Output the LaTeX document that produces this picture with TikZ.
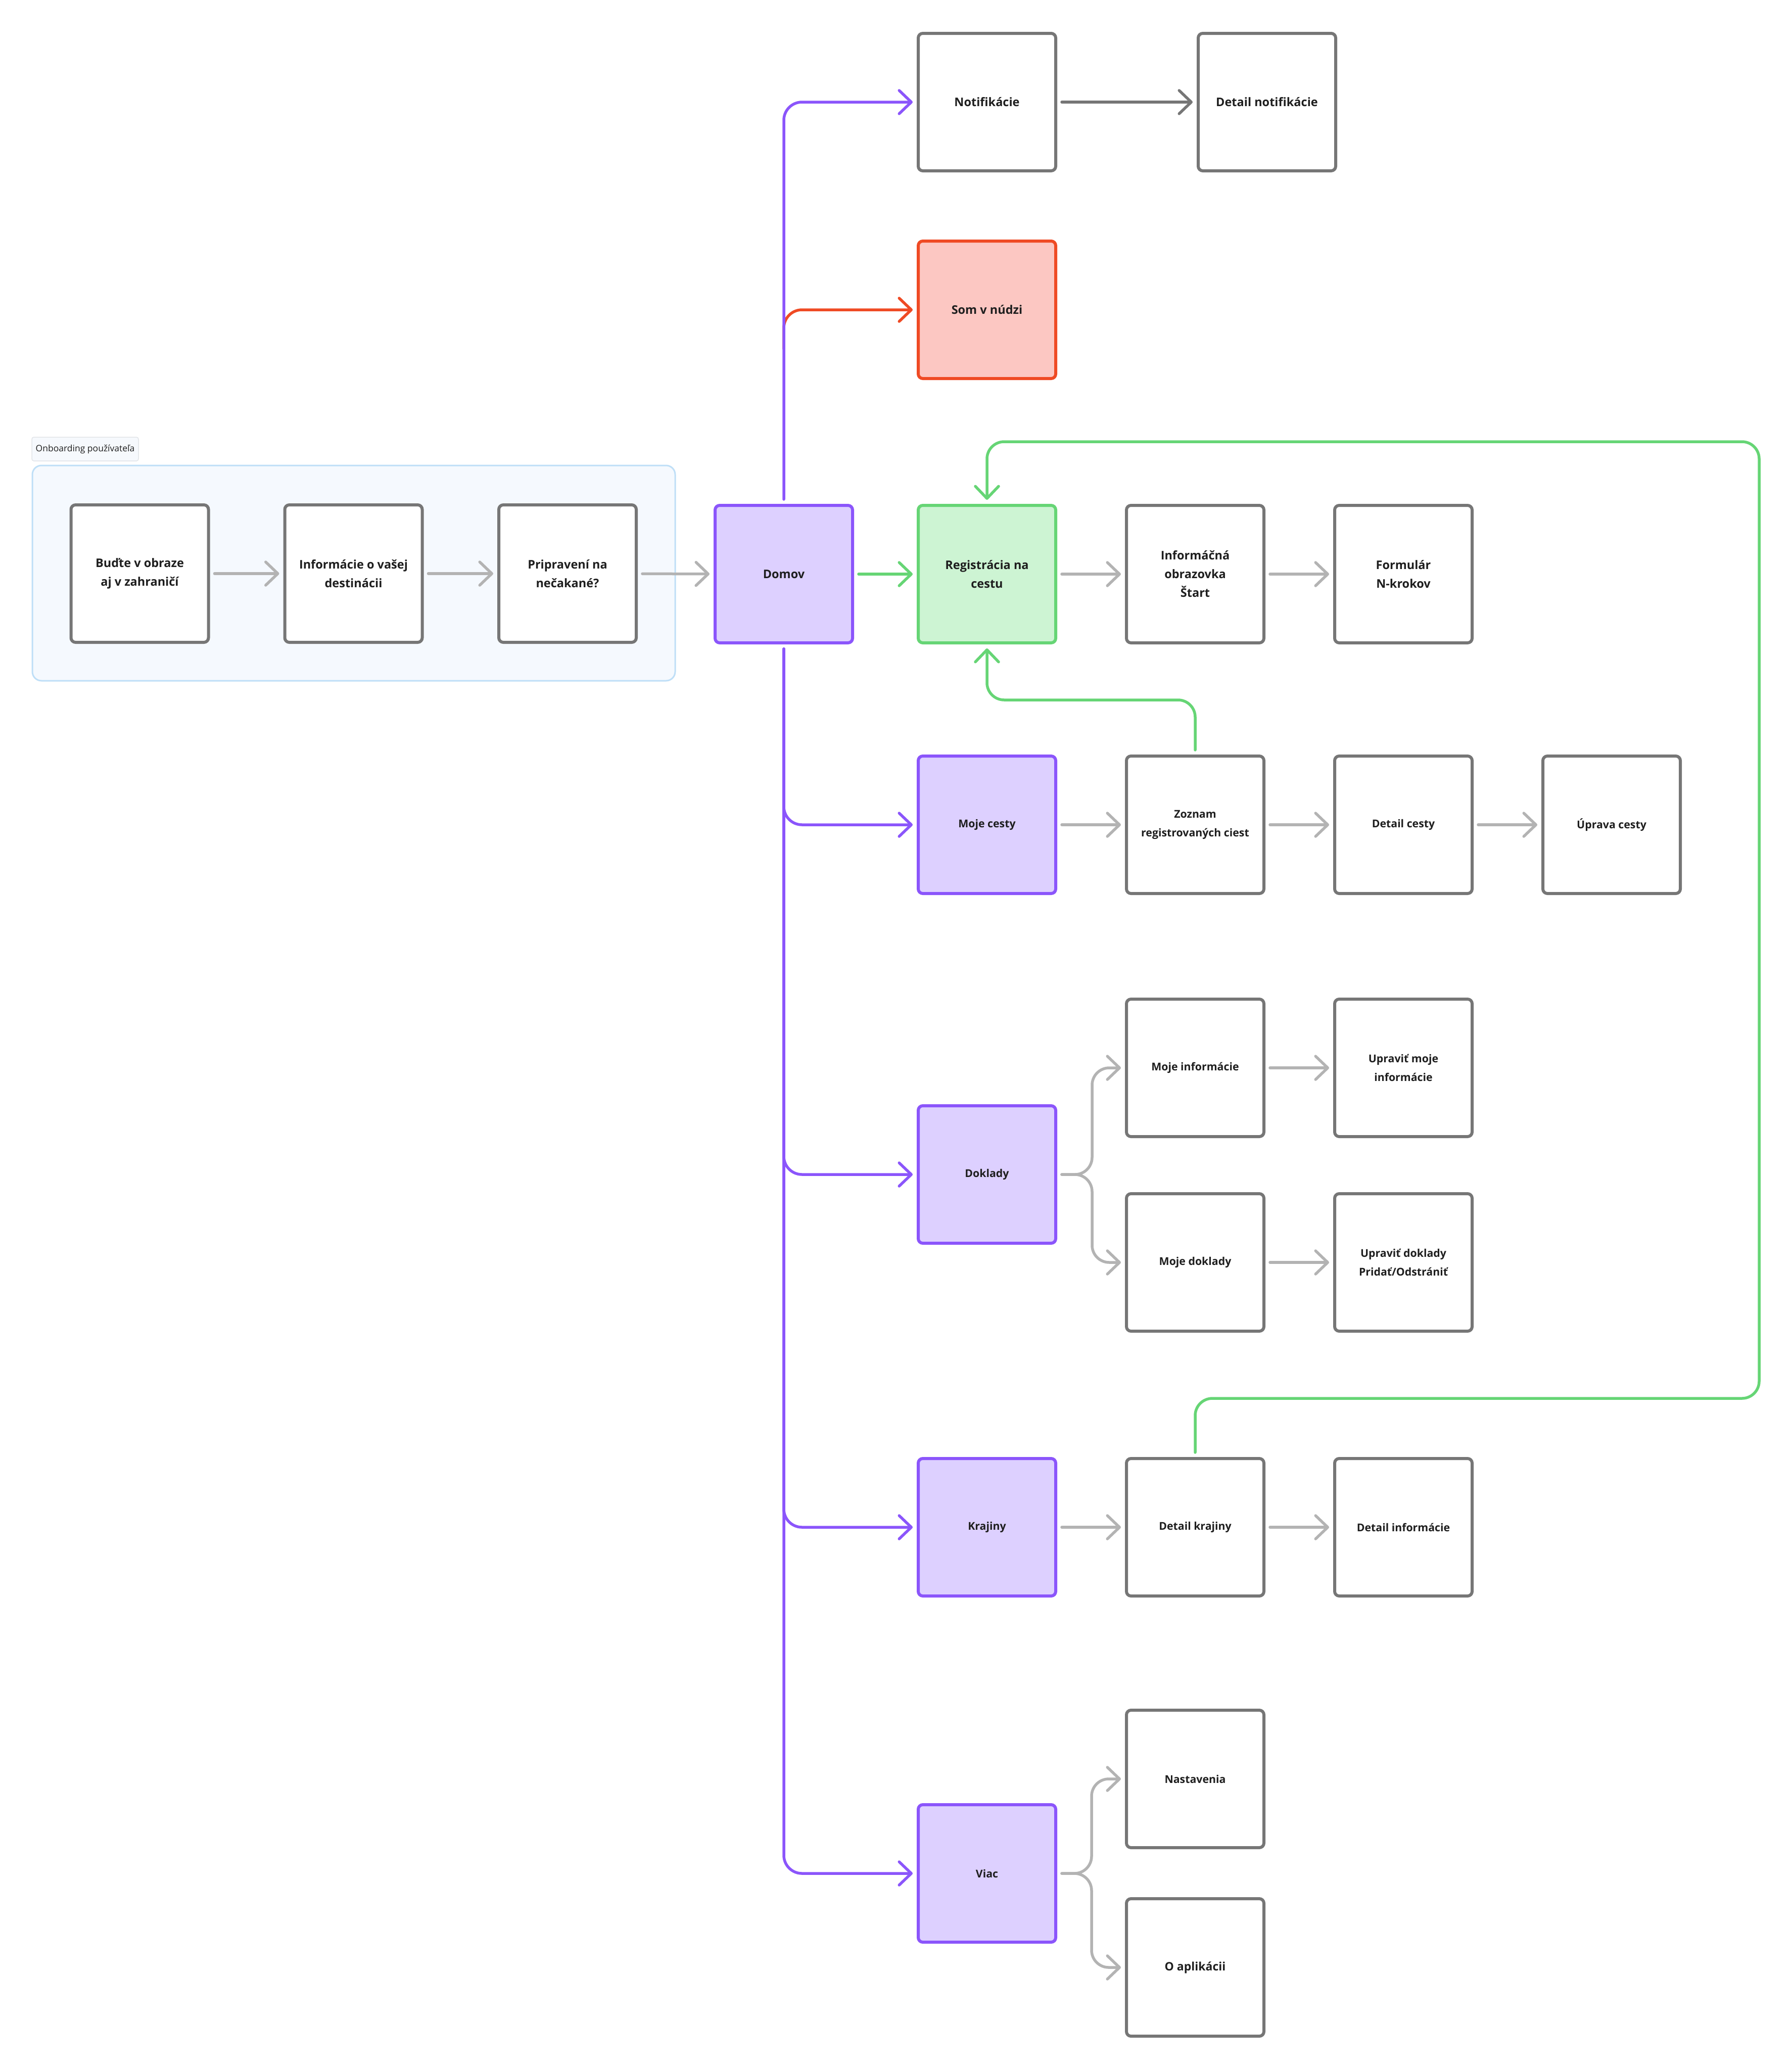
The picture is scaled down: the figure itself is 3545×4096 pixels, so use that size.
\documentclass[tikz,border=0pt]{standalone}
\usepackage{fontspec}
\setmainfont{Open Sans}
\usetikzlibrary{arrows.meta}
\definecolor{pborder}{HTML}{8B55FB}
\definecolor{pfill}{HTML}{DDD0FF}
\definecolor{gborder}{HTML}{66D575}
\definecolor{gfill}{HTML}{CDF4D3}
\definecolor{rborder}{HTML}{EF4A24}
\definecolor{rfill}{HTML}{FCC7C2}
\definecolor{boxgrey}{HTML}{767676}
\definecolor{lgrey}{HTML}{B3B3B3}
\definecolor{txt}{HTML}{1E1E1E}
\definecolor{contfill}{HTML}{F5F9FE}
\definecolor{contborder}{HTML}{BFDFF7}
\definecolor{lblfill}{HTML}{F6F9FD}
\definecolor{lblborder}{HTML}{E2E5E9}
\begin{document}
\begin{tikzpicture}[x=1pt,y=-1pt,
  box/.style={draw=boxgrey, fill=white, line width=6pt, rounded corners=9pt,
    minimum width=272pt, minimum height=272pt, inner sep=0pt, align=center,
    text=txt, font=\fontsize{23.5}{37}\selectfont\bfseries},
  sm/.style={font=\fontsize{21.3}{37}\selectfont\bfseries},
  pbox/.style={box, draw=pborder, fill=pfill},
  gbox/.style={box, draw=gborder, fill=gfill},
  rbox/.style={box, draw=rborder, fill=rfill},
  conn/.style={line width=5.5pt, line cap=round, line join=round,
    -{Straight Barb[length=24pt,width=46pt,round]}, shorten <=9pt, shorten >=8pt},
  larrow/.style={conn, draw=lgrey},
  darrow/.style={conn, draw=boxgrey},
  parrow/.style={conn, draw=pborder, rounded corners=36pt},
  garrow/.style={conn, draw=gborder, rounded corners=34pt},
  rarrow/.style={conn, draw=rborder, rounded corners=36pt},
  container/.style={draw=contborder, fill=contfill, line width=3pt, rounded corners=18pt,
    minimum width=1272pt, minimum height=426pt, inner sep=0pt},
  lblbox/.style={draw=lblborder, fill=lblfill, line width=1.5pt, rounded corners=4pt,
    minimum width=211pt, minimum height=47pt, inner sep=0pt, text=txt,
    font=\fontsize{17.5}{20}\selectfont}
]
\useasboundingbox (0,0) rectangle (3545,4096);
\fill[white] (0,0) rectangle (3545,4096);

% onboarding group
\node (onb) [container] at (700,1134) {};
\node (onblbl) [lblbox] at (168.5,888.5) {Onboarding používateľa};
\node (o1) [box] at (276.5,1135) {Buďte v obraze\\aj v zahraničí};
\node (o2) [box] at (699.5,1135) {Informácie o vašej\\destinácii};
\node (o3) [box] at (1123,1135) {Pripravení na\\nečakané?};

% main nodes
\node (dom) [pbox] at (1551,1136) {Domov};
\node (notif) [box] at (1953,202) {Notifikácie};
\node (dnotif) [box] at (2507,202) {Detail notifikácie};
\node (som) [rbox] at (1953,613) {Som v núdzi};
\node (reg) [gbox] at (1953,1136) {Registrácia na\\cestu};
\node (inf) [box] at (2365,1136) {Informáčná\\obrazovka\\Štart};
\node (form) [box] at (2777,1136) {Formulár\\N-krokov};
\node (mc) [pbox, sm] at (1953,1632) {Moje cesty};
\node (zoz) [box, sm] at (2365,1632) {Zoznam\\registrovaných ciest};
\node (dc) [box, sm] at (2777,1632) {Detail cesty};
\node (uc) [box, sm] at (3189,1632) {Úprava cesty};
\node (mi) [box, sm] at (2365,2113) {Moje informácie};
\node (umi) [box, sm] at (2777,2113) {Upraviť moje\\informácie};
\node (dok) [pbox, sm] at (1953,2324) {Doklady};
\node (md) [box, sm] at (2365,2498) {Moje doklady};
\node (umd) [box, sm] at (2777,2498) {Upraviť doklady\\Pridať/Odstrániť};
\node (kr) [pbox, sm] at (1953,3022) {Krajiny};
\node (dk) [box, sm] at (2365,3022) {Detail krajiny};
\node (di) [box, sm] at (2777,3022) {Detail informácie};
\node (nast) [box, sm] at (2365,3520) {Nastavenia};
\node (viac) [pbox, sm] at (1953,3707) {Viac};
\node (oapl) [box, font=\fontsize{23}{37}\selectfont\bfseries] at (2365,3893) {O aplikácii};

% helper coordinates
\coordinate (redstart) at (1551,690);
\coordinate (bk1) at (2161,2324);
\coordinate (bk2) at (2160,3707);
\coordinate (gl1) at (3481,2767);
\coordinate (gl2) at (3481,874);
\coordinate (gl3) at (2365,1385);

% onboarding flow
\draw[larrow] (o1) -- (o2);
\draw[larrow] (o2) -- (o3);
\draw[larrow] (o3) -- (dom);

% red branch (under purple trunk)
\draw[rarrow, shorten <=0pt] (redstart) |- (som.west);

% purple trunk
\draw[parrow] (dom.north) |- (notif.west);
\draw[parrow] (dom.south) |- (mc.west);
\draw[parrow] (dom.south) |- (dok.west);
\draw[parrow] (dom.south) |- (kr.west);
\draw[parrow] (dom.south) |- (viac.west);

% green
\draw[garrow] (dom) -- (reg);
\draw[garrow] (zoz.north) -- (gl3) -| (reg.south);
\draw[garrow] (dk.north) |- (gl1) -- (gl2) -| (reg.north);

% grey flows
\draw[darrow] (notif) -- (dnotif);
\draw[larrow] (reg) -- (inf);
\draw[larrow] (inf) -- (form);
\draw[larrow] (mc) -- (zoz);
\draw[larrow] (zoz) -- (dc);
\draw[larrow] (dc) -- (uc);
\draw[larrow, rounded corners=34pt] (dok.east) -- (bk1) |- (mi.west);
\draw[larrow, rounded corners=34pt] (dok.east) -- (bk1) |- (md.west);
\draw[larrow] (mi) -- (umi);
\draw[larrow] (md) -- (umd);
\draw[larrow] (kr) -- (dk);
\draw[larrow] (dk) -- (di);
\draw[larrow, rounded corners=34pt] (viac.east) -- (bk2) |- (nast.west);
\draw[larrow, rounded corners=34pt] (viac.east) -- (bk2) |- (oapl.west);
\end{tikzpicture}
\end{document}
